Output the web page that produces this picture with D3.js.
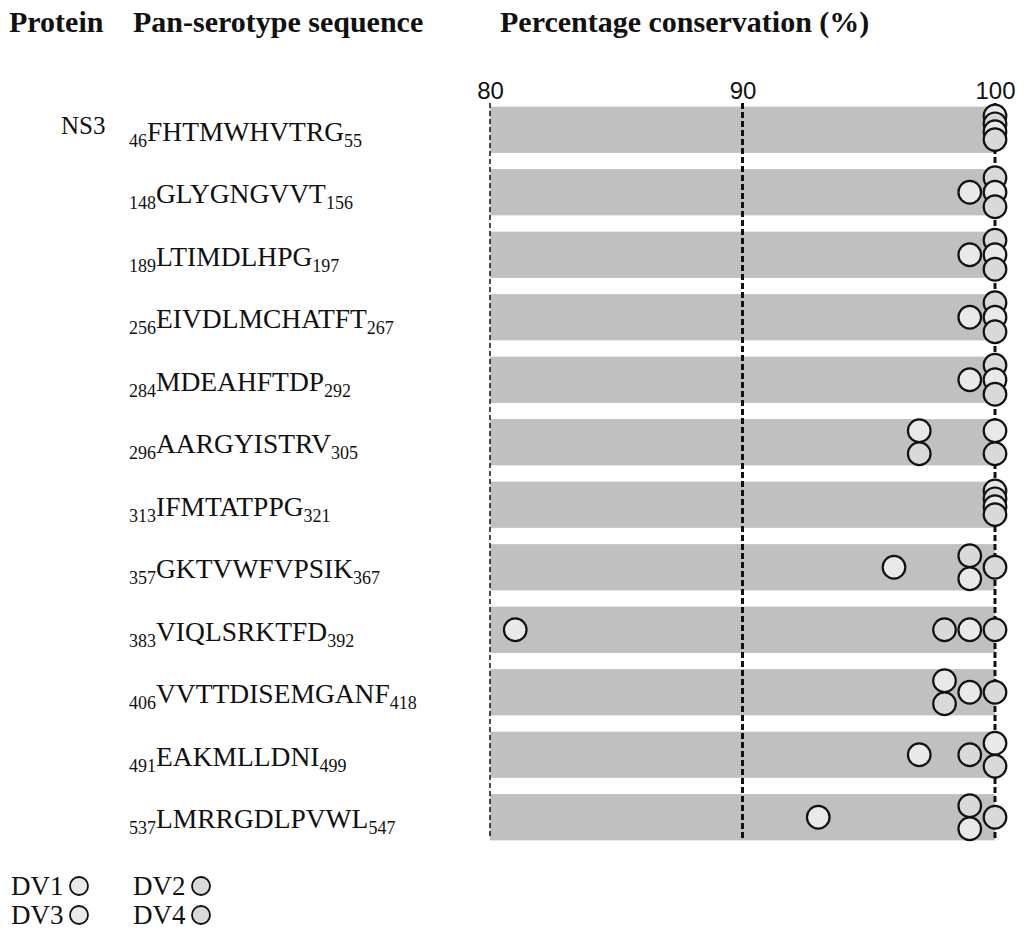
<!DOCTYPE html>
<html>
<head>
<meta charset="utf-8">
<script src="https://cdn.jsdelivr.net/npm/d3@7"></script>
<style>
  html, body { margin: 0; padding: 0; background: #fff; }
  svg { display: block; }
</style>
</head>
<body>
<svg id="chart" width="1030" height="933"></svg>
<script>
// ---------- data ----------
const proteins = ["NS3"];
const seqStart = [46, 148, 189, 256, 284, 296, 313, 357, 383, 406, 491, 537];
const seqText = ["FHTMWHVTRG", "GLYGNGVVT", "LTIMDLHPG", "EIVDLMCHATFT", "MDEAHFTDP",
                 "AARGYISTRV", "IFMTATPPG", "GKTVWFVPSIK", "VIQLSRKTFD", "VVTTDISEMGANF",
                 "EAKMLLDNI", "LMRRGDLPVWL"];
const seqEnd = [55, 156, 197, 267, 292, 305, 321, 367, 392, 418, 499, 547];
const serotypes = ["DV1", "DV2", "DV3", "DV4"];
const dv1 = [100, 99, 99, 99, 99, 97, 100, 96, 81, 98, 97, 93];
const dv2 = [100, 100, 100, 100, 100, 97, 100, 99, 98, 98, 99, 99];
const dv3 = [100, 100, 100, 100, 100, 100, 100, 99, 99, 99, 100, 99];
const dv4 = [100, 100, 100, 100, 100, 100, 100, 100, 100, 100, 100, 100];
const tickValues = [80, 90, 100];

// ---------- layout ----------
const svg = d3.select("#chart");
const serif = "'Liberation Serif','Times New Roman',serif";
const sans = "'Liberation Sans',Arial,sans-serif";
const series = [dv1, dv2, dv3, dv4];
const fills = ["#e9e9e9", "#d9d9d9", "#e9e9e9", "#d9d9d9"];

const x = d3.scaleLinear().domain([80, 100]).range([490, 995]);
const rowIdx = d3.range(seqText.length);
const y = d3.scaleBand().domain(rowIdx).range([98.5, 848.5]).paddingInner(0.26).paddingOuter(0.13);
const rowCenter = i => y(i) + y.bandwidth() / 2;

// headers
const headers = [
  { t: "Protein", x: 9 },
  { t: "Pan-serotype sequence", x: 133 },
  { t: "Percentage conservation (%)", x: 500 }
];
svg.selectAll("text.hdr").data(headers).join("text")
  .attr("class", "hdr")
  .attr("x", d => d.x).attr("y", 32)
  .attr("font-family", serif).attr("font-weight", "bold").attr("font-size", 30)
  .attr("fill", "#111").text(d => d.t);

// bars
svg.selectAll("rect.bar").data(rowIdx).join("rect")
  .attr("class", "bar")
  .attr("x", x(80)).attr("width", x(100) - x(80))
  .attr("y", i => y(i)).attr("height", y.bandwidth())
  .attr("fill", "#c0c0c0");

// grid lines
const gridTop = 103, gridBottom = 839;
svg.selectAll("line.grid").data(tickValues).join("line")
  .attr("class", "grid")
  .attr("x1", d => x(d)).attr("x2", d => x(d))
  .attr("y1", gridTop).attr("y2", gridBottom)
  .attr("stroke", "#111")
  .attr("stroke-width", d => d === 80 ? 1.5 : 3)
  .attr("stroke-dasharray", d => d === 80 ? "5,3" : "6,3");

// axis labels
const axis = d3.axisTop(x).tickValues(tickValues).tickSize(0).tickPadding(0).tickFormat(d3.format("d"));
const axG = svg.append("g").attr("transform", "translate(0,99)").call(axis);
axG.select(".domain").remove();
axG.selectAll("text").attr("font-family", sans).attr("font-size", 24).attr("fill", "#111");

// protein label
svg.selectAll("text.prot").data(proteins).join("text")
  .attr("class", "prot")
  .attr("x", 61).attr("y", (d, i) => rowCenter(i) + 4)
  .attr("font-family", serif).attr("font-size", 25).attr("fill", "#111").text(d => d);

// sequence labels
const seqG = svg.selectAll("text.seq").data(rowIdx).join("text")
  .attr("class", "seq")
  .attr("x", 129).attr("y", i => rowCenter(i) + 11)
  .attr("font-family", serif).attr("fill", "#111");
seqG.append("tspan").attr("font-size", 18).attr("dy", 6).text(i => seqStart[i]);
seqG.append("tspan").attr("font-size", 27.5).attr("dy", -6).text(i => seqText[i]);
seqG.append("tspan").attr("font-size", 18).attr("dy", 6).text(i => seqEnd[i]);

// circles: stack equal values vertically within each row
const stepByCount = { 1: 0, 2: 23, 3: 14.5, 4: 7.9 };
const points = [];
rowIdx.forEach(i => {
  const vals = series.map((s, k) => ({ v: s[i], k }));
  const groups = d3.group(vals, d => d.v);
  groups.forEach(arr => {
    const n = arr.length, step = stepByCount[n];
    arr.forEach((d, j) => {
      points.push({ row: i, v: d.v, k: d.k, off: (j - (n - 1) / 2) * step - (n === 4 ? 2 : 0) });
    });
  });
});
points.sort((a, b) => (a.row - b.row) || (a.v - b.v) || (a.off - b.off));
svg.selectAll("circle.pt").data(points).join("circle")
  .attr("class", "pt")
  .attr("cx", d => x(d.v)).attr("cy", d => rowCenter(d.row) + d.off)
  .attr("r", 11.3)
  .attr("fill", d => fills[d.k])
  .attr("stroke", "#111").attr("stroke-width", 2.2);

// legend
const legend = serotypes.map((s, k) => ({ s, k, col: k % 2, row: Math.floor(k / 2) }));
const lg = svg.selectAll("g.lg").data(legend).join("g")
  .attr("class", "lg")
  .attr("transform", d => `translate(${11 + d.col * 122},${895 + d.row * 29})`);
lg.append("text").attr("font-family", serif).attr("font-size", 27).attr("fill", "#111").text(d => d.s);
lg.append("circle").attr("cx", 68).attr("cy", -9).attr("r", 9)
  .attr("fill", d => fills[d.k]).attr("stroke", "#111").attr("stroke-width", 1.8);
</script>
</body>
</html>
